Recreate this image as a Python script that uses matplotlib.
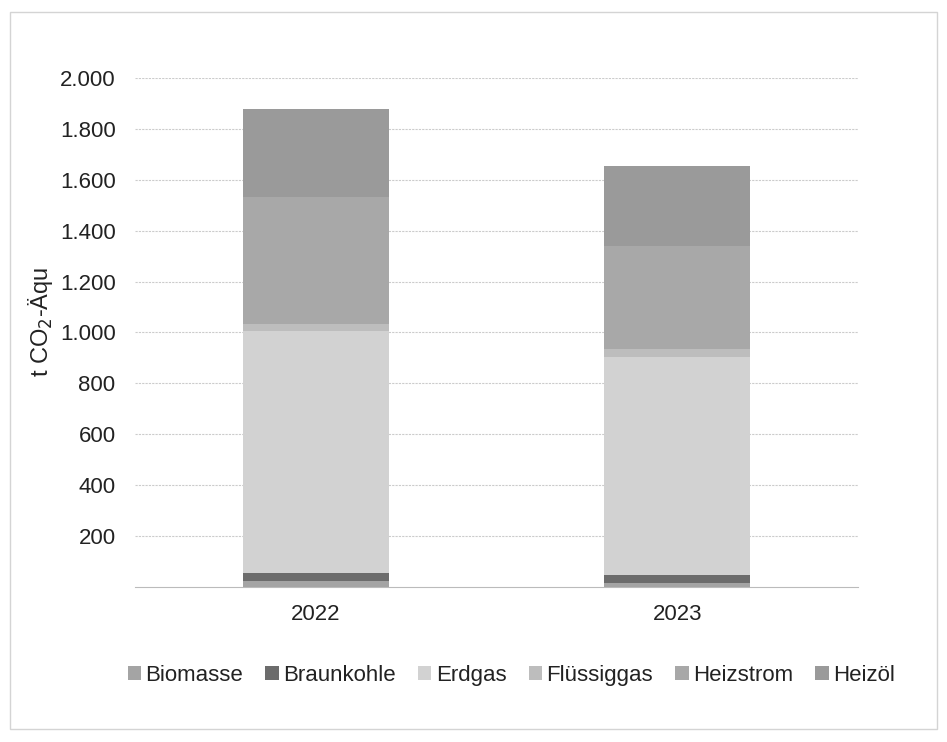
import matplotlib.pyplot as plt
from matplotlib.patches import Rectangle

plt.rcParams['font.family'] = ['Liberation Sans', 'DejaVu Sans']

years = ['2022', '2023']
carriers = ['Biomasse', 'Braunkohle', 'Erdgas', 'Flüssiggas', 'Heizstrom', 'Heizöl']
biomasse = [23, 16]
braunkohle = [32, 31]
erdgas = [951, 857]
fluessiggas = [27, 31]
heizstrom = [500, 405]
heizoel = [345, 315]
colors = ['#a4a4a4', '#6c6c6c', '#d2d2d2', '#bdbdbd', '#a8a8a8', '#9a9a9a']

series = [biomasse, braunkohle, erdgas, fluessiggas, heizstrom, heizoel]

fig = plt.figure(figsize=(9.47, 7.42), dpi=100)
ax = fig.add_axes([0.1426, 0.2089, 0.7634, 0.686])

# thin frame round the whole chart
fig.patches.append(Rectangle((0.011, 0.017), 0.978, 0.967, transform=fig.transFigure,
                             fill=False, edgecolor='#d4d4d4', linewidth=1.0))

x = [0, 1]
bottom = [0, 0]
for name, vals, col in zip(carriers, series, colors):
    ax.bar(x, vals, width=0.405, bottom=bottom, color=col, label=name, zorder=3)
    bottom = [b + v for b, v in zip(bottom, vals)]

ax.set_xlim(-0.5, 1.5)
ax.set_ylim(0, 2000)
ax.set_yticks(range(200, 2001, 200))
ax.set_yticklabels([f'{v:,}'.replace(',', '.') for v in range(200, 2001, 200)])
ax.set_xticks(x)
ax.set_xticklabels(years)
ax.tick_params(length=0, labelsize=16, colors='#222222')
ax.tick_params(axis='y', pad=14)
ax.tick_params(axis='x', pad=12)

for v in range(200, 2001, 200):
    ax.axhline(v, color='#cccccc', linewidth=0.8, linestyle=(0, (2, 1)), zorder=1)
for s in ['top', 'right', 'left']:
    ax.spines[s].set_visible(False)
ax.spines['bottom'].set_color('#bbbbbb')

ax.set_ylabel('t CO$_2$-Äqu', fontsize=17, color='#222222')
ax.yaxis.set_label_coords(-0.111, 0.52)

fig.legend(loc='center', bbox_to_anchor=(0.54, 0.09), ncol=6, frameon=False,
           fontsize=16, handlelength=0.6, handleheight=0.6, handletextpad=0.2,
           columnspacing=1.0, labelcolor='#222222')

fig.savefig('out.png', dpi=100)
